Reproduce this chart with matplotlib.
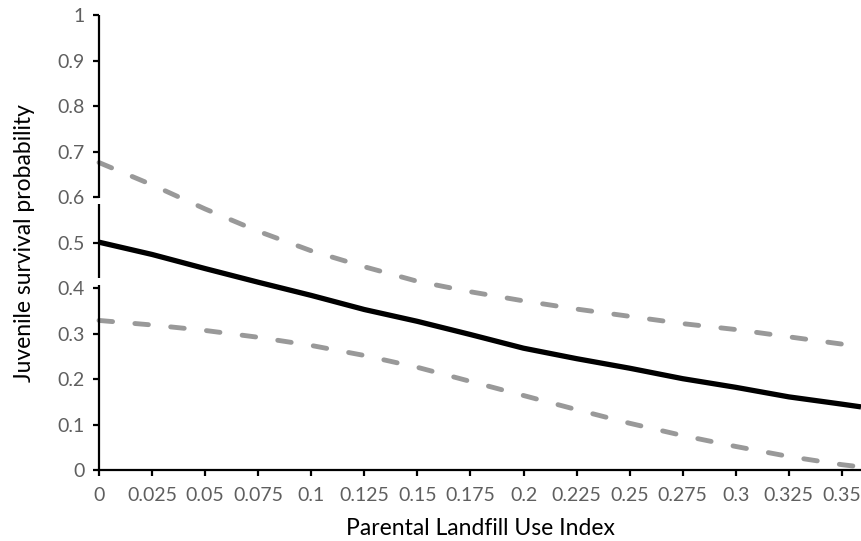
import numpy as np
import matplotlib.pyplot as plt

# landfill use index (x) and survival estimates
landfill_x = [0, 0.025, 0.05, 0.075, 0.1, 0.125, 0.15, 0.175, 0.2, 0.225,
              0.25, 0.275, 0.3, 0.325, 0.35, 0.359]
survival = [0.501, 0.474, 0.443, 0.413, 0.384, 0.353, 0.327, 0.298, 0.268, 0.245,
            0.224, 0.201, 0.182, 0.161, 0.145, 0.139]
upper_ci = [0.676, 0.627, 0.574, 0.525, 0.482, 0.447, 0.415, 0.392, 0.372, 0.354,
            0.338, 0.322, 0.309, 0.293, 0.277, 0.271]
lower_ci = [0.329, 0.319, 0.307, 0.292, 0.274, 0.252, 0.226, 0.195, 0.164, 0.133,
            0.103, 0.076, 0.052, 0.030, 0.012, 0.007]

xticks = np.arange(0, 0.351, 0.025)
xtick_labels = ['0', '0.025', '0.05', '0.075', '0.1', '0.125', '0.15', '0.175',
                '0.2', '0.225', '0.25', '0.275', '0.3', '0.325', '0.35']
yticks = np.arange(0, 1.01, 0.1)
ytick_labels = ['0', '0.1', '0.2', '0.3', '0.4', '0.5', '0.6', '0.7', '0.8', '0.9', '1']

plt.rcParams['font.family'] = ['Lato', 'DejaVu Sans']

fig = plt.figure(figsize=(8.61, 5.41), dpi=100)
ax = fig.add_axes([0.115, 0.131, 0.885, 0.841])

dash = (0, (2.8, 4.6))
ax.plot(landfill_x, upper_ci, color='#999999', lw=3.5, ls=dash,
        dash_capstyle='round', clip_on=False)
ax.plot(landfill_x, lower_ci, color='#999999', lw=3.5, ls=dash,
        dash_capstyle='round', clip_on=False)
ax.plot(landfill_x, survival, color='black', lw=3.8, solid_capstyle='butt')

ax.set_xlim(0, 0.359)
ax.set_ylim(0, 1)
ax.set_xticks(xticks)
ax.set_xticklabels(xtick_labels)
ax.set_yticks(yticks)
ax.set_yticklabels(ytick_labels)

for s in ['top', 'right', 'left']:
    ax.spines[s].set_visible(False)
ax.spines['bottom'].set_linewidth(1.6)

# left axis drawn in pieces (the original has two small breaks)
trans = ax.get_yaxis_transform()
for y0, y1 in [(0, 0.407), (0.422, 0.585), (0.598, 1.0)]:
    ax.plot([0, 0], [y0, y1], color='black', lw=1.6, transform=trans,
            clip_on=False, solid_capstyle='butt')

ax.tick_params(axis='both', direction='out', length=4.3, width=1.6,
               colors='black', labelcolor='#5f5f5f', labelsize=14)
ax.tick_params(axis='y', pad=6)
ax.tick_params(axis='x', pad=8)

ax.set_xlabel('Parental Landfill Use Index', fontsize=16.5, labelpad=10)
ax.set_ylabel('Juvenile survival probability', fontsize=16.5, labelpad=16)

fig.savefig('out.png', dpi=100)
